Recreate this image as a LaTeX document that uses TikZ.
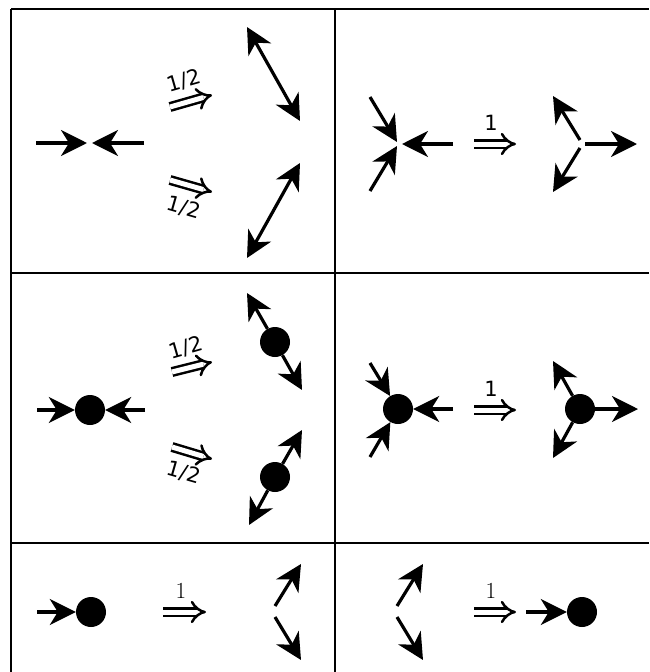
\documentclass[tikz,border=0pt]{standalone}
\usepackage{fontspec}
\setsansfont{DejaVu Sans}
\usetikzlibrary{arrows.meta}

\tikzset{
  grid/.style={line width=1.6pt},
  ray/.style={line width=3.2pt, -{Stealth[length=26pt,width=26pt,inset=8pt]}},
  twoway/.style={line width=3.2pt, {Stealth[length=26pt,width=26pt,inset=8pt]}-{Stealth[length=26pt,width=26pt,inset=8pt]}},
  yields/.style={double, double distance=5pt, line width=2.5pt, -{Implies}},
  blob/.style={circle, fill, inner sep=0pt, minimum size=30pt},
  frac/.style={font=\sffamily\fontsize{21}{21}\selectfont, inner sep=0pt},
  unit/.style={font=\fontsize{23}{23}\selectfont, inner sep=0pt},
}

\begin{document}
\begin{tikzpicture}[x=1pt, y=-1pt]
  \useasboundingbox (0,0) rectangle (649,672);

  % table lines
  \draw[grid] (11,9) -- (649,9);
  \draw[grid] (11,9) -- (11,672);
  \draw[grid] (335,9) -- (335,672);
  \draw[grid] (11,273) -- (649,273);
  \draw[grid] (11,543) -- (649,543);

  % row 1, left
  \draw[ray] (36,143) -- (87,143);
  \draw[ray] (144,143) -- (92,143);
  \draw[yields] (170,107) -- (212,95);
  \node[frac, rotate=16] (h1) at (184,81) {1/2};
  \draw[yields] (170,180) -- (212,192);
  \node[frac, rotate=-16] (h2) at (184,208) {1/2};
  \draw[twoway] (247,27) -- (300,121);
  \draw[twoway] (300,163) -- (247,258);

  % row 1, right
  \coordinate (v1) at (398,144);
  \coordinate (w1) at (580,144);
  \draw[ray] (370,97) -- ([shift={(-1,-2)}]v1);
  \draw[ray] (370,191) -- ([shift={(-1,2)}]v1);
  \draw[ray] (453,144) -- ([shift={(4,0)}]v1);
  \draw[yields] (474,144) -- (516,144);
  \node[frac] (o1) at (491,123) {1};
  \draw[ray] ([shift={(0,-4)}]w1) -- (553,96);
  \draw[ray] ([shift={(0,4)}]w1) -- (553,192);
  \draw[ray] ([shift={(5,0)}]w1) -- (637,144);

  % row 2, left
  \node[blob] (d0) at (90,410) {};
  \draw[ray] (37,410) -- (d0);
  \draw[ray] (145,410) -- (d0);
  \draw[yields] (172,372) -- (212,362);
  \node[frac, rotate=16] (h3) at (186,348) {1/2};
  \draw[yields] (172,447) -- (212,459);
  \node[frac, rotate=-16] (h4) at (184,473) {1/2};
  \node[blob] (d1) at (275,342) {};
  \draw[ray] (d1) -- (247,293);
  \draw[ray] (d1) -- (302,390);
  \node[blob] (d2) at (275,477) {};
  \draw[ray] (d2) -- (302,430);
  \draw[ray] (d2) -- (249,525);

  % row 2, right
  \node[blob] (d3) at (398,409) {};
  \draw[ray] (370,363) -- (d3);
  \draw[ray] (370,457) -- (d3);
  \draw[ray] (453,409) -- (d3);
  \draw[yields] (474,410) -- (516,410);
  \node[frac] (o2) at (491,389) {1};
  \node[blob] (d4) at (580,409) {};
  \draw[ray] (d4) -- (553,361);
  \draw[ray] (d4) -- (553,458);
  \draw[ray] (d4) -- (638,409);

  % row 3, left
  \node[blob] (d5) at (91,612) {};
  \draw[ray] (37,612) -- (d5);
  \draw[yields] (163,612) -- (206,612);
  \node[unit] (o3) at (181,591) {1};
  \draw[ray] (275,606) -- (301,564);
  \draw[ray] (275,617) -- (301,660);

  % row 3, right
  \draw[ray] (397,606) -- (423,564);
  \draw[ray] (397,617) -- (423,660);
  \draw[yields] (474,612) -- (516,612);
  \node[unit] (o4) at (491,591) {1};
  \node[blob] (d6) at (582,612) {};
  \draw[ray] (526,612) -- (d6);
\end{tikzpicture}
\end{document}
